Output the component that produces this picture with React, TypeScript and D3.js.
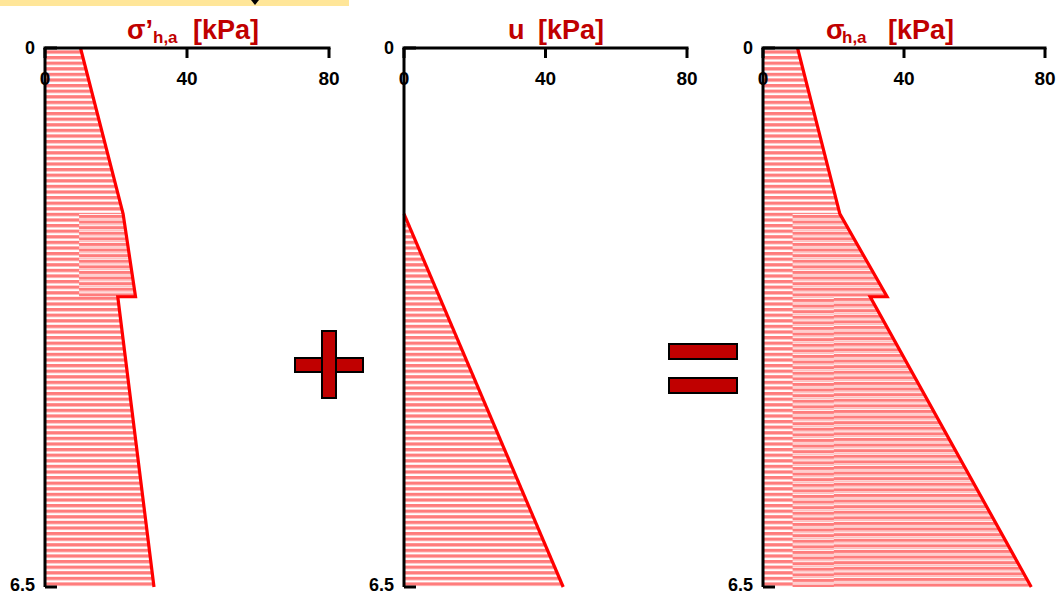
import React from "react";
import * as d3 from "d3";

// ---- data ----
const xTicks = [0, 40, 80];
const depthTicks = [0, 6.5];
const xDomain = [0, 80];
const depthDomain = [0, 6.5];

// effective horizontal active stress sigma'_h,a
const effDepth = [0, 2, 3, 3, 6.5];
const effStress = [10, 22, 25.5, 20.5, 30.7];
// pore water pressure u
const poreDepth = [2, 6.5];
const porePressure = [0, 45];
// total horizontal stress sigma_h,a
const totDepth = [0, 2, 3, 3, 6.5];
const totStress = [9.8, 21.8, 35.2, 30.4, 76.1];

// overlapping hatch blocks (depth ranges, left value) seen in the picture
const effBlocks = [{ d0: 2, d1: 3, left: 9.6 }];
const totBlocks = [
  { d0: 2, d1: 6.5, left: 8.4 },
  { d0: 3, d1: 6.5, left: 20.1 },
];

const TITLE = "#c00000";
const LINE = "#ff0000";
const HATCH = "#ff7c7c";
const FONT = "'Liberation Sans', Arial, sans-serif";

const yScale = d3.scaleLinear().domain(depthDomain).range([48, 587]);

type Panel = {
  x0: number;
  x1: number;
  depth: number[];
  value: number[];
  blocks: { d0: number; d1: number; left: number }[];
};

const panels: Panel[] = [
  { x0: 45, x1: 329, depth: effDepth, value: effStress, blocks: effBlocks },
  { x0: 404, x1: 687, depth: poreDepth, value: porePressure, blocks: [] },
  { x0: 763, x1: 1045, depth: totDepth, value: totStress, blocks: totBlocks },
];

function PanelView({ p, idx }: { p: Panel; idx: number }) {
  const x = d3.scaleLinear().domain(xDomain).range([p.x0, p.x1]);
  const pts: [number, number][] = p.depth.map((d, i) => [p.value[i], d]);
  const line = d3
    .line<[number, number]>()
    .x((d) => x(d[0]))
    .y((d) => yScale(d[1]));
  const first = pts[0];
  const last = pts[pts.length - 1];
  const area: [number, number][] = [[0, first[1]], ...pts, [0, last[1]]];
  const areaPath = line(area) + "Z";

  const clipId = `clip${idx}`;
  return (
    <g>
      <defs>
        <clipPath id={clipId}>
          <path d={areaPath} />
        </clipPath>
      </defs>
      <path d={areaPath} fill="url(#hatchA)" />
      <g clipPath={`url(#${clipId})`}>
        {p.blocks.map((b, i) => (
          <rect
            key={i}
            x={x(b.left)}
            y={yScale(b.d0)}
            width={p.x1 - x(b.left)}
            height={yScale(b.d1) - yScale(b.d0)}
            fill={i % 2 === 0 ? "url(#hatchB)" : "url(#hatchC)"}
          />
        ))}
      </g>
      <path d={line(pts) || ""} fill="none" stroke={LINE} strokeWidth={3.2} strokeLinejoin="miter" />
      {/* axes */}
      <line x1={p.x0} x2={p.x1} y1={yScale(0)} y2={yScale(0)} stroke="#000" strokeWidth={3} strokeLinecap="square" />
      <line x1={p.x0} x2={p.x0} y1={yScale(0)} y2={yScale(6.5)} stroke="#000" strokeWidth={3} />
      {xTicks.map((t) => (
        <g key={t}>
          <line x1={x(t)} x2={x(t)} y1={yScale(0)} y2={yScale(0) + 10} stroke="#000" strokeWidth={3} />
          <text x={x(t)} y={85} textAnchor="middle" fontFamily={FONT} fontWeight="bold" fontSize={19} fill="#000">
            {t}
          </text>
        </g>
      ))}
      {depthTicks.map((t, i) => (
        <g key={t}>
          <line x1={p.x0} x2={p.x0 + 12} y1={yScale(t)} y2={yScale(t)} stroke="#000" strokeWidth={3} />
          <text
            x={p.x0 - 10}
            y={i === 0 ? yScale(t) + 6 : yScale(t) + 4}
            textAnchor="end"
            fontFamily={FONT}
            fontWeight="bold"
            fontSize={18}
            fill="#000"
          >
            {t}
          </text>
        </g>
      ))}
    </g>
  );
}

export default function App() {
  return (
    <svg
      width={1061}
      height={594}
      style={{ position: "absolute", left: 0, top: 0, background: "#fff" }}
    >
      <defs>
        <pattern id="hatchA" patternUnits="userSpaceOnUse" width={8} height={5.6}>
          <rect x={0} y={0} width={8} height={3.3} fill={HATCH} />
        </pattern>
        <pattern id="hatchB" patternUnits="userSpaceOnUse" width={8} height={5.6} y={2.2}>
          <rect x={0} y={0} width={8} height={5.6} fill="#fff" />
          <rect x={0} y={0} width={8} height={3.1} fill={HATCH} />
          <rect x={0} y={3.7} width={8} height={1.1} fill="#ffbcbc" />
        </pattern>
        <pattern id="hatchC" patternUnits="userSpaceOnUse" width={8} height={5.6} y={1.2}>
          <rect x={0} y={0} width={8} height={5.6} fill="#fff" />
          <rect x={0} y={0} width={8} height={3.1} fill={HATCH} />
          <rect x={0} y={3.7} width={8} height={1.1} fill="#ffbcbc" />
        </pattern>
      </defs>

      {/* yellow banner strip */}
      <rect x={0} y={0} width={349} height={6} fill="#ffe699" />
      <path d="M251,0 L259,0 L255,5 Z" fill="#000" />

      {panels.map((p, i) => (
        <PanelView key={i} p={p} idx={i} />
      ))}

      {/* titles */}
      <text x={127} y={39} fontFamily={FONT} fontWeight="bold" fontSize={27} fill={TITLE}>
        σ’
        <tspan x={153} dy={4} fontSize={17}>h,a</tspan>
        <tspan x={193} dy={-4}>[kPa]</tspan>
      </text>
      <text x={508} y={39} fontFamily={FONT} fontWeight="bold" fontSize={27} fill={TITLE}>
        u<tspan x={538}>[kPa]</tspan>
      </text>
      <text x={826} y={39} fontFamily={FONT} fontWeight="bold" fontSize={27} fill={TITLE}>
        σ
        <tspan x={842} dy={4} fontSize={17}>h,a</tspan>
        <tspan x={888} dy={-4}>[kPa]</tspan>
      </text>

      {/* plus sign */}
      <rect x={295} y={358} width={68} height={14} fill={TITLE} stroke="#000" strokeWidth={2} />
      <rect x={322} y={331} width={14} height={67} fill={TITLE} stroke="#000" strokeWidth={2} />
      {/* equals sign */}
      <rect x={669} y={344} width={68} height={15} fill={TITLE} stroke="#000" strokeWidth={2} />
      <rect x={669} y={378} width={68} height={15} fill={TITLE} stroke="#000" strokeWidth={2} />
    </svg>
  );
}
